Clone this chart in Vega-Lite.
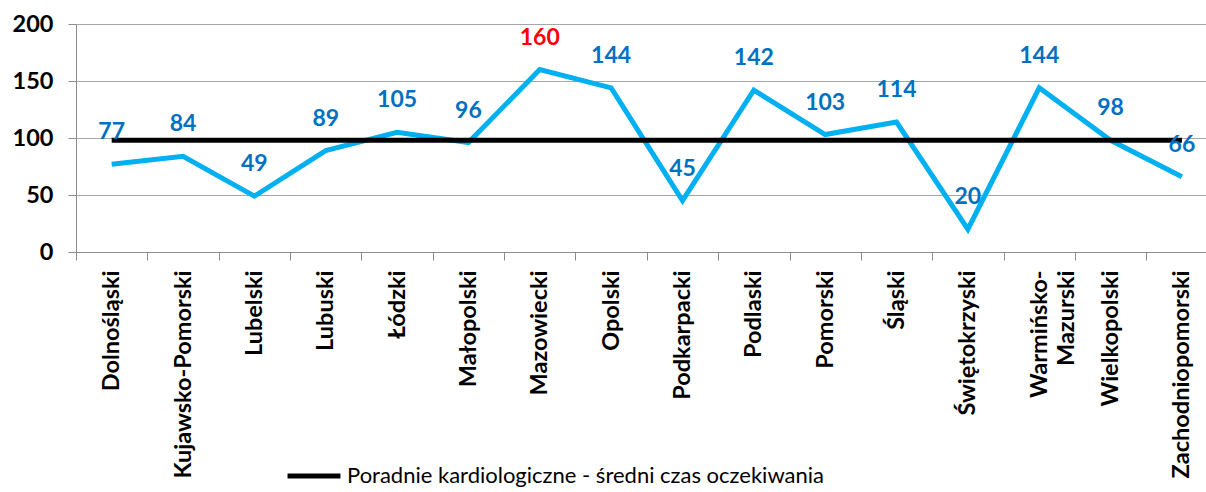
{
  "$schema": "https://vega.github.io/schema/vega-lite/v6.json",
  "width": 1130,
  "height": 228,
  "autosize": "none",
  "padding": {"left": 76, "top": 24, "right": 0, "bottom": 240},
  "background": "white",
  "config": {
    "view": {"stroke": null},
    "font": "Lato"
  },
  "data": {
    "values": [
      {"region": "Dolnośląski", "value": 77, "avg": 98},
      {"region": "Kujawsko-Pomorski", "value": 84, "avg": 98},
      {"region": "Lubelski", "value": 49, "avg": 98},
      {"region": "Lubuski", "value": 89, "avg": 98},
      {"region": "Łódzki", "value": 105, "avg": 98},
      {"region": "Małopolski", "value": 96, "avg": 98},
      {"region": "Mazowiecki", "value": 160, "avg": 98},
      {"region": "Opolski", "value": 144, "avg": 98},
      {"region": "Podkarpacki", "value": 45, "avg": 98},
      {"region": "Podlaski", "value": 142, "avg": 98},
      {"region": "Pomorski", "value": 103, "avg": 98},
      {"region": "Śląski", "value": 114, "avg": 98},
      {"region": "Świętokrzyski", "value": 20, "avg": 98},
      {"region": "Warmińsko-Mazurski", "value": 144, "avg": 98},
      {"region": "Wielkopolski", "value": 98, "avg": 98},
      {"region": "Zachodniopomorski", "value": 66, "avg": 98}
    ]
  },
  "encoding": {
    "x": {
      "field": "region",
      "type": "nominal",
      "sort": null,
      "scale": {"range": [0, 1141.6], "paddingInner": 0, "paddingOuter": 0},
      "axis": {
        "title": null,
        "labelAngle": -90,
        "labelAlign": "right",
        "labelBaseline": "middle",
        "labelFont": "Lato",
        "labelFontWeight": "bold",
        "labelFontSize": 23.5,
        "labelColor": "#000000",
        "labelPadding": 10,
        "labelExpr": "datum.label == 'Warmińsko-Mazurski' ? ['Warmińsko-', 'Mazurski'] : datum.label",
        "labelLineHeight": 27,
        "labelLimit": 400,
        "tickBand": "extent",
        "tickSize": 8,
        "tickColor": "#8C8C8C",
        "domainColor": "#8C8C8C",
        "grid": false
      }
    }
  },
  "layer": [
    {
      "mark": {"type": "line", "color": "#00B0F0", "strokeWidth": 5, "strokeJoin": "miter"},
      "encoding": {
        "y": {
          "field": "value",
          "type": "quantitative",
          "scale": {"domain": [0, 200], "nice": false},
          "axis": {
            "title": null,
            "values": [0, 50, 100, 150, 200],
            "labelFont": "Lato",
            "labelFontWeight": "bold",
            "labelFontSize": 23.5,
            "labelColor": "#000000",
            "labelPadding": 15,
            "tickSize": 8,
            "tickColor": "#8C8C8C",
            "domainColor": "#8C8C8C",
            "gridColor": "#A6A6A6",
            "gridWidth": 1.2
          }
        }
      }
    },
    {
      "mark": {"type": "line", "strokeWidth": 5},
      "encoding": {
        "y": {"field": "avg", "type": "quantitative"},
        "color": {
          "datum": "Poradnie kardiologiczne - średni czas oczekiwania",
          "type": "nominal",
          "scale": {"range": ["#000000"]},
          "legend": {
            "title": null,
            "orient": "none",
            "legendX": 209,
            "legendY": 423,
            "symbolType": "stroke",
            "symbolSize": 2800,
            "symbolStrokeWidth": 5,
            "labelFont": "Lato",
            "labelFontSize": 22,
            "labelColor": "#000000",
            "labelOffset": 4,
            "labelLimit": 600
          }
        }
      }
    },
    {
      "mark": {"type": "text", "dy": -32, "fontWeight": "bold", "fontSize": 23, "font": "Lato"},
      "encoding": {
        "y": {"field": "value", "type": "quantitative"},
        "text": {"field": "value", "type": "quantitative"},
        "color": {
          "condition": {"test": "datum.region === 'Mazowiecki'", "value": "#FF0000"},
          "value": "#0070C0"
        }
      }
    }
  ]
}
